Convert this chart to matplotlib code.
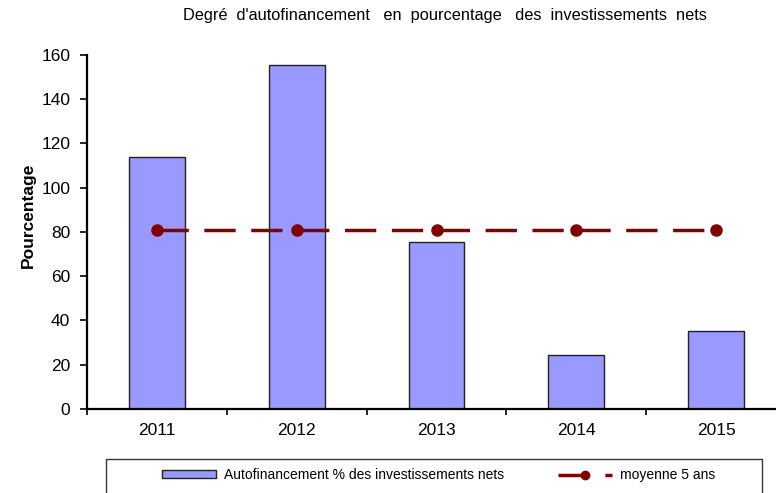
import matplotlib
matplotlib.use("Agg")
import matplotlib.pyplot as plt
from matplotlib.patches import Patch, Rectangle
from matplotlib.lines import Line2D
import numpy as np

plt.rcParams['font.family'] = ['Liberation Sans', 'DejaVu Sans']

# Data
years = ['2011', '2012', '2013', '2014', '2015']
autofinancement = [113.9, 155.4, 75.4, 24.4, 35.2]
moyenne = [80.8, 80.8, 80.8, 80.8, 80.8]
yticks = [0, 20, 40, 60, 80, 100, 120, 140, 160]

title = "Degré  d'autofinancement   en  pourcentage   des  investissements  nets"
label_bar = "Autofinancement % des investissements nets"
label_line = "moyenne 5 ans"

W, H = 776, 493
fig = plt.figure(figsize=(W / 100, H / 100), dpi=100)
ax = fig.add_axes([87 / W, 1 - 409 / H, 699 / W, (409 - 54.6) / H])

x = np.arange(len(years))
bar_color = '#9999FF'
line_color = '#800000'

ax.bar(x, autofinancement, width=0.4, color=bar_color, edgecolor='#222222',
       linewidth=1.0, zorder=2)
ax.plot(x, moyenne, color=line_color, linewidth=2.5, linestyle=(0, (9, 4.5)),
        marker='o', markersize=8, zorder=3)

ax.set_xlim(-0.5, len(years) - 0.5)
ax.set_ylim(0, 160)
ax.set_yticks(yticks)
ax.set_yticklabels([str(v) for v in yticks])

# category labels at centers (minor), tick marks at boundaries (major)
ax.set_xticks(np.arange(-0.5, len(years), 1.0))
ax.set_xticklabels([])
ax.set_xticks(x, minor=True)
ax.set_xticklabels(years, minor=True)
ax.tick_params(axis='x', which='major', direction='out', length=4, width=1.2, color='black')
ax.tick_params(axis='x', which='minor', length=0, pad=10, labelsize=12.5)
ax.tick_params(axis='y', direction='out', length=5, width=1.2, pad=7, labelsize=12.5)

for s in ['top', 'right']:
    ax.spines[s].set_visible(False)
for s in ['left', 'bottom']:
    ax.spines[s].set_linewidth(1.6)
    ax.spines[s].set_color('black')

ax.set_ylabel('Pourcentage', fontsize=12.5, fontweight='bold', va='center')
ax.yaxis.set_label_coords((28 - 87) / 699, (409 - 215) / 354.4)

fig.text(445 / W, 1 - 15.5 / H, title, ha='center', va='center', fontsize=11.8)

handles = [
    Patch(facecolor=bar_color, edgecolor='#222222', linewidth=1.0),
    Line2D([0], [0], color=line_color, linewidth=2.5, linestyle=(0, (9, 4.5)),
           marker='o', markersize=6),
]
leg = fig.legend(handles, [label_bar, label_line], loc='center', ncol=2,
                 bbox_to_anchor=(438.5 / W, 1 - 475 / H), frameon=False,
                 fontsize=10, handlelength=3.9, handleheight=0.5,
                 handletextpad=0.55, columnspacing=3.9, borderpad=0.2)
fig.patches.append(Rectangle((106 / W, -0.1), (762 - 106) / W, 0.1 + (1 - 459 / H),
                             transform=fig.transFigure, fill=False,
                             edgecolor='#333333', linewidth=1.0))

fig.savefig('out.png', dpi=100)
